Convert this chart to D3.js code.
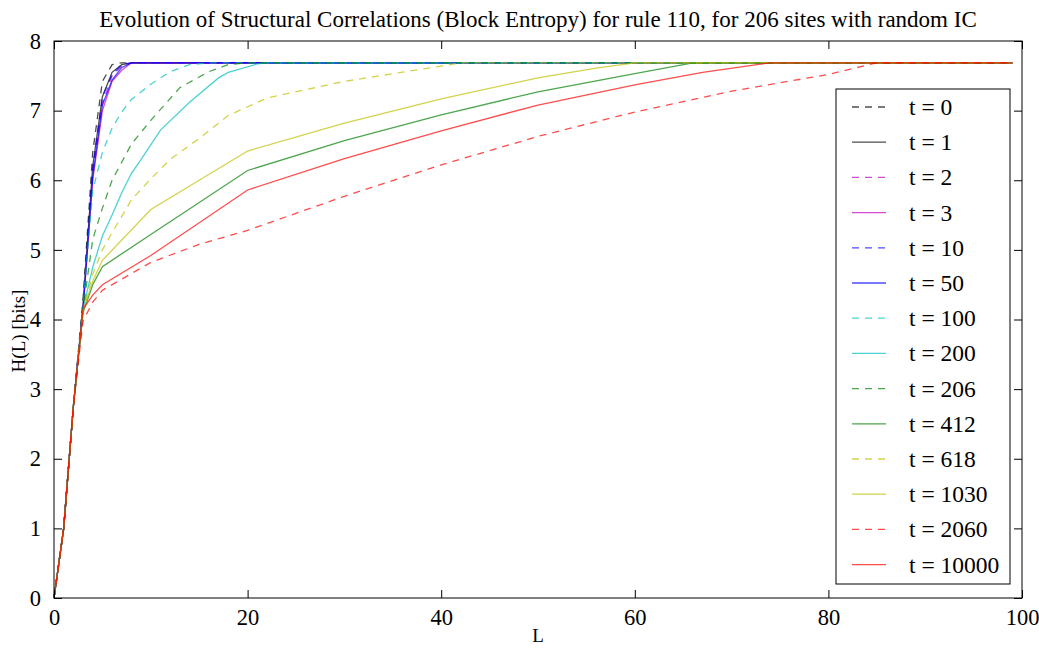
<!DOCTYPE html>
<html>
<head>
<meta charset="utf-8">
<script src="https://d3js.org/d3.v7.min.js"></script>
<style>
    body { margin:0; background:#fff; }
    svg text { font-family:"Liberation Serif","Times New Roman","DejaVu Serif",serif !important; fill:#000; }
</style>
</head>
<body>
<svg id="chart"></svg>
<script>
    // block lengths and entropies, one pair per time step
    var L_t0 = [0,1,2,3,4,5,6,7,99];
    var H_t0 = [0,1.0,2.75,4.3,6.4,7.42,7.66,7.687,7.687];
    var L_t1 = [0,1,2,3,4,5,6,7,8,99];
    var H_t1 = [0,1.0,2.75,4.2,6.2,7.2,7.55,7.66,7.687,7.687];
    var L_t2 = [0,1,2,3,4,5,6,7,8,99];
    var H_t2 = [0,1.0,2.75,4.15,6.1,7.1,7.5,7.64,7.687,7.687];
    var L_t3 = [0,1,2,3,4,5,6,7,8,99];
    var H_t3 = [0,1.0,2.75,4.15,6.0,7.0,7.42,7.58,7.687,7.687];
    var L_t10 = [0,1,2,3,4,5,6,7,8,99];
    var H_t10 = [0,1.0,2.75,4.2,6.15,7.2,7.52,7.66,7.687,7.687];
    var L_t50 = [0,1,2,3,4,5,6,7,8,99];
    var H_t50 = [0,1.0,2.75,4.15,6.05,7.08,7.44,7.62,7.687,7.687];
    var L_t100 = [0,1,2,3,4,5,6,7,8,10,12,14,16,99];
    var H_t100 = [0,1.0,2.75,4.2,5.85,6.4,6.75,6.98,7.16,7.38,7.56,7.66,7.687,7.687];
    var L_t200 = [0,1,2,3,4,5,6,7,8,9,11,14,17,18,21,22,99];
    var H_t200 = [0,1.0,2.75,4.15,4.75,5.2,5.5,5.82,6.1,6.3,6.72,7.12,7.47,7.55,7.67,7.687,7.687];
    var L_t206 = [0,1,2,3,4,5,6,8,10,13,16,18,20,99];
    var H_t206 = [0,1.0,2.75,4.15,5.15,5.6,6.0,6.52,6.86,7.33,7.56,7.66,7.687,7.687];
    var L_t412 = [0,1,2,3,4,5,10,20,30,40,50,60,66,99];
    var H_t412 = [0,1.0,2.75,4.1,4.5,4.76,5.22,6.14,6.57,6.94,7.27,7.53,7.687,7.687];
    var L_t618 = [0,1,2,3,4,5,6,7,8,10,12,15,18,22,30,40,42,99];
    var H_t618 = [0,1.0,2.75,4.12,4.65,5.0,5.25,5.48,5.72,6.02,6.3,6.6,6.93,7.18,7.42,7.64,7.687,7.687];
    var L_t1030 = [0,1,2,3,4,5,10,20,30,40,50,56,60,99];
    var H_t1030 = [0,1.0,2.75,4.12,4.55,4.85,5.58,6.42,6.82,7.17,7.47,7.61,7.687,7.687];
    var L_t2060 = [0,1,2,3,4,5,10,15,20,30,40,50,60,70,80,85,99];
    var H_t2060 = [0,1.0,2.75,3.98,4.25,4.42,4.82,5.08,5.28,5.77,6.22,6.63,6.98,7.28,7.52,7.687,7.687];
    var L_t10000 = [0,1,2,3,4,5,10,20,30,40,50,60,67,74,99];
    var H_t10000 = [0,1.0,2.75,4.15,4.35,4.5,4.92,5.86,6.31,6.71,7.08,7.37,7.55,7.687,7.687];

    var labels = ["t = 0","t = 1","t = 2","t = 3","t = 10","t = 50","t = 100","t = 200",
                  "t = 206","t = 412","t = 618","t = 1030","t = 2060","t = 10000"];
    var xTicks = [0,20,40,60,80,100];
    var yTicks = [0,1,2,3,4,5,6,7,8];

    var allL = [L_t0,L_t1,L_t2,L_t3,L_t10,L_t50,L_t100,L_t200,L_t206,L_t412,L_t618,L_t1030,L_t2060,L_t10000];
    var allH = [H_t0,H_t1,H_t2,H_t3,H_t10,H_t50,H_t100,H_t200,H_t206,H_t412,H_t618,H_t1030,H_t2060,H_t10000];

    // styles
    var colors = ["#000000","#000000","#bf00bf","#bf00bf","#0000ff","#0000ff","#00bfbf","#00bfbf",
                  "#008000","#008000","#bfbf00","#bfbf00","#ff0000","#ff0000"];
    var dashed = [true,false,true,false,true,false,true,false,true,false,true,false,true,false];
    var serif = "'Liberation Serif','Times New Roman','DejaVu Serif',serif";

    var screen = {width:1039,height:651};
    var margin = {left:54,right:17,top:41,bottom:53};
    var svg = d3.select("#chart")
        .attr("width",screen.width)
        .attr("height",screen.height);

    var xScale = d3.scaleLinear()
        .domain([0,100])
        .range([margin.left,screen.width-margin.right]);
    var yScale = d3.scaleLinear()
        .domain([0,8])
        .range([screen.height-margin.bottom,margin.top]);

    var line = d3.line()
        .x(function(d){ return xScale(d[0]); })
        .y(function(d){ return yScale(d[1]); });

    var series = allL.map(function(Ls,i){
        return Ls.map(function(l,j){ return [l,allH[i][j]]; });
    });

    svg.append("g")
        .selectAll("path")
        .data(series)
        .enter()
        .append("path")
        .attr("d",line)
        .attr("fill","none")
        .attr("stroke",function(d,i){ return colors[i]; })
        .attr("stroke-opacity",0.7)
        .attr("stroke-width",1.3)
        .attr("stroke-dasharray",function(d,i){ return dashed[i] ? "7,6" : null; });

    // axes, matplotlib classic: ticks inside on all four sides
    var tickLen = 8;
    var x0 = xScale.range()[0], x1 = xScale.range()[1];
    var y0 = yScale.range()[0], y1 = yScale.range()[1];

    svg.append("g")
        .attr("transform","translate(0,"+y0+")")
        .call(d3.axisBottom(xScale).tickValues(xTicks).tickSizeInner(-tickLen).tickSizeOuter(0).tickPadding(11))
        .call(function(g){ g.select(".domain").remove(); });
    svg.append("g")
        .attr("transform","translate(0,"+y1+")")
        .call(d3.axisTop(xScale).tickValues(xTicks).tickSizeInner(-tickLen).tickSizeOuter(0).tickFormat(""))
        .call(function(g){ g.select(".domain").remove(); });
    svg.append("g")
        .attr("transform","translate("+x0+",0)")
        .call(d3.axisLeft(yScale).tickValues(yTicks).tickSizeInner(-tickLen).tickSizeOuter(0).tickPadding(13))
        .call(function(g){ g.select(".domain").remove(); });
    svg.append("g")
        .attr("transform","translate("+x1+",0)")
        .call(d3.axisRight(yScale).tickValues(yTicks).tickSizeInner(-tickLen).tickSizeOuter(0).tickFormat(""))
        .call(function(g){ g.select(".domain").remove(); });

    svg.selectAll("g").attr("font-family",serif);
    svg.selectAll(".tick line").attr("stroke","#000");
    svg.selectAll(".tick text")
        .attr("font-family",serif)
        .attr("font-size",22.5);

    svg.append("rect")
        .attr("x",x0).attr("y",y1)
        .attr("width",x1-x0).attr("height",y0-y1)
        .attr("fill","none").attr("stroke","#000").attr("stroke-width",1);

    svg.append("text")
        .attr("x",(x0+x1)/2).attr("y",27)
        .attr("text-anchor","middle")
        .attr("font-family",serif)
        .attr("font-size",23)
        .text("Evolution of Structural Correlations (Block Entropy) for rule 110, for 206 sites with random IC");

    svg.append("text")
        .attr("x",(x0+x1)/2).attr("y",642)
        .attr("text-anchor","middle")
        .attr("font-family",serif)
        .attr("font-size",19)
        .text("L");

    svg.append("text")
        .attr("transform","translate(25,331) rotate(-90)")
        .attr("text-anchor","middle")
        .attr("font-family",serif)
        .attr("font-size",19)
        .text("H(L) [bits]");

    // legend
    var legend = svg.append("g").attr("transform","translate(836,89)");
    legend.append("rect")
        .attr("width",174).attr("height",495)
        .attr("fill","#fff").attr("stroke","#000").attr("stroke-width",1);
    var rows = legend.selectAll("g.row")
        .data(labels)
        .enter()
        .append("g")
        .attr("class","row")
        .attr("transform",function(d,i){ return "translate(0,"+(18+i*35.2)+")"; });
    rows.append("line")
        .attr("x1",16).attr("x2",50)
        .attr("stroke",function(d,i){ return colors[i]; })
        .attr("stroke-opacity",0.7)
        .attr("stroke-width",1.3)
        .attr("stroke-dasharray",function(d,i){ return dashed[i] ? "7,6" : null; });
    rows.append("text")
        .attr("x",73).attr("y",8)
        .attr("font-family",serif)
        .attr("font-size",23.5)
        .text(function(d){ return d; });
</script>
</body>
</html>
